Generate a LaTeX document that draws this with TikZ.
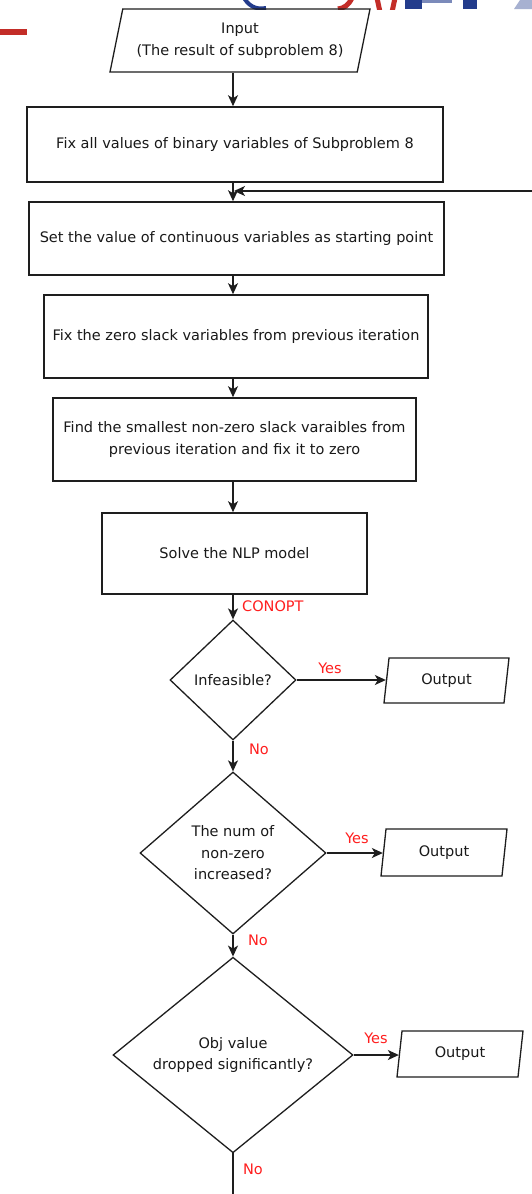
\documentclass[tikz,border=0pt]{standalone}
\usepackage{fontspec}
\setmainfont{DejaVu Sans}
\usetikzlibrary{shapes.geometric,arrows.meta}
\definecolor{ln}{RGB}{30,30,30}
\definecolor{lbl}{RGB}{255,30,30}
\definecolor{logored}{RGB}{195,45,40}
\definecolor{logoblue}{RGB}{35,60,140}
\begin{document}
\begin{tikzpicture}[x=1pt,y=-1pt,
 font=\fontsize{14.5}{21.5}\selectfont,
 every node/.style={text=black!90},
 proc/.style={draw=ln,line width=1.6pt,rectangle,inner sep=0pt,align=center},
 io/.style={draw=ln,line width=1.3pt,trapezium,trapezium left angle=70,trapezium right angle=110,trapezium stretches body=true,inner sep=0pt,align=center},
 dec/.style={draw=ln,line width=1.3pt,diamond,inner sep=0pt,align=center},
 arr/.style={draw=ln,line width=1.4pt,-{Stealth[length=11pt,width=10pt,inset=3pt]}},
 plain/.style={draw=ln,line width=1.4pt},
 lab/.style={text=lbl,inner sep=0pt}]
\useasboundingbox (0,0) rectangle (532,1194);
\fill[white] (0,0) rectangle (532,1194);
% logo fragments and bar
\fill[logored] (0,29) rectangle (27,35);
\begin{scope}
\clip (0,0) rectangle (532,9);
\draw[logoblue,line width=4pt] (243,-4) .. controls (248,6) and (256,10) .. (266,8);
\draw[logored,line width=5pt] (352,-2) .. controls (348,6) and (344,8) .. (338,9);
\draw[logored,line width=5pt] (377,-2) -- (380,12);
\draw[logored,line width=5pt] (395,-2) -- (392,12);
\fill[logoblue] (405,0) rectangle (422,9);
\fill[logoblue!60] (422,0) rectangle (452,3);
\fill[logoblue] (463,0) rectangle (477,9);
\fill[logoblue!40] (514,9) -- (520,0) -- (532,0) -- (532,9) -- cycle;
\end{scope}
\coordinate (axis) at (233,0);
\node[io,minimum width=260pt,minimum height=63pt] (in) at (240,40.5) {Input\\(The result of subproblem 8)};
\node[proc,minimum width=416pt,minimum height=75pt] (b1) at (235,144.5) {Fix all values of binary variables of Subproblem 8};
\node[proc,minimum width=415pt,minimum height=73pt] (b2) at (236.5,238.5) {Set the value of continuous variables as starting point};
\node[proc,minimum width=384pt,minimum height=83pt] (b3) at (236,336.5) {Fix the zero slack variables from previous iteration};
\node[proc,minimum width=363pt,minimum height=83pt] (b4) at (234.5,439.5) {Find the smallest non-zero slack varaibles from\\previous iteration and fix it to zero};
\node[proc,minimum width=265pt,minimum height=81pt] (b5) at (234.5,553.5) {Solve the NLP model};
\node[dec,minimum width=126pt,minimum height=120pt] (d1) at (233,680) {Infeasible?};
\node[dec,minimum width=186pt,minimum height=162pt] (d2) at (233,853) {The num of\\non-zero\\increased?};
\node[dec,minimum width=240pt,minimum height=190pt] (d3) at (233,1055) {Obj value\\dropped significantly?};
\node[io,minimum width=125pt,minimum height=45pt] (o1) at (446.5,680.5) {Output};
\node[io,minimum width=126pt,minimum height=47pt] (o2) at (444,852.5) {Output};
\node[io,minimum width=126pt,minimum height=46pt] (o3) at (460,1054) {Output};
\node[lab,anchor=west] (conopt) at (242,606) {CONOPT};
\node[lab] (y1) at (330,668) {Yes};
\node[lab] (n1) at (259,749) {No};
\node[lab] (y2) at (357,838) {Yes};
\node[lab] (n2) at (258,940) {No};
\node[lab] (y3) at (376,1038) {Yes};
\node[lab] (n3) at (253,1169) {No};
\coordinate (fbR) at (532,191);
\coordinate (bot) at (233,1194);
\draw[arr] (in.south -| axis) -- (b1.north -| axis);
\draw[arr] (b1.south -| axis) -- (b2.north -| axis);
\draw[arr] (fbR) -- ([xshift=1pt]fbR -| axis);
\draw[arr] (b2.south -| axis) -- (b3.north -| axis);
\draw[arr] (b3.south -| axis) -- (b4.north -| axis);
\draw[arr] (b4.south -| axis) -- (b5.north -| axis);
\draw[arr] (b5.south -| axis) -- (d1.north);
\draw[arr] (d1.south) -- (d2.north);
\draw[arr] (d2.south) -- (d3.north);
\draw[plain] (d3.south) -- (bot);
\draw[arr] (d1.east) -- (d1.east -| o1.west);
\draw[arr] (d2.east) -- (d2.east -| o2.west);
\draw[arr] (d3.east) -- (d3.east -| o3.west);
\end{tikzpicture}
\end{document}
